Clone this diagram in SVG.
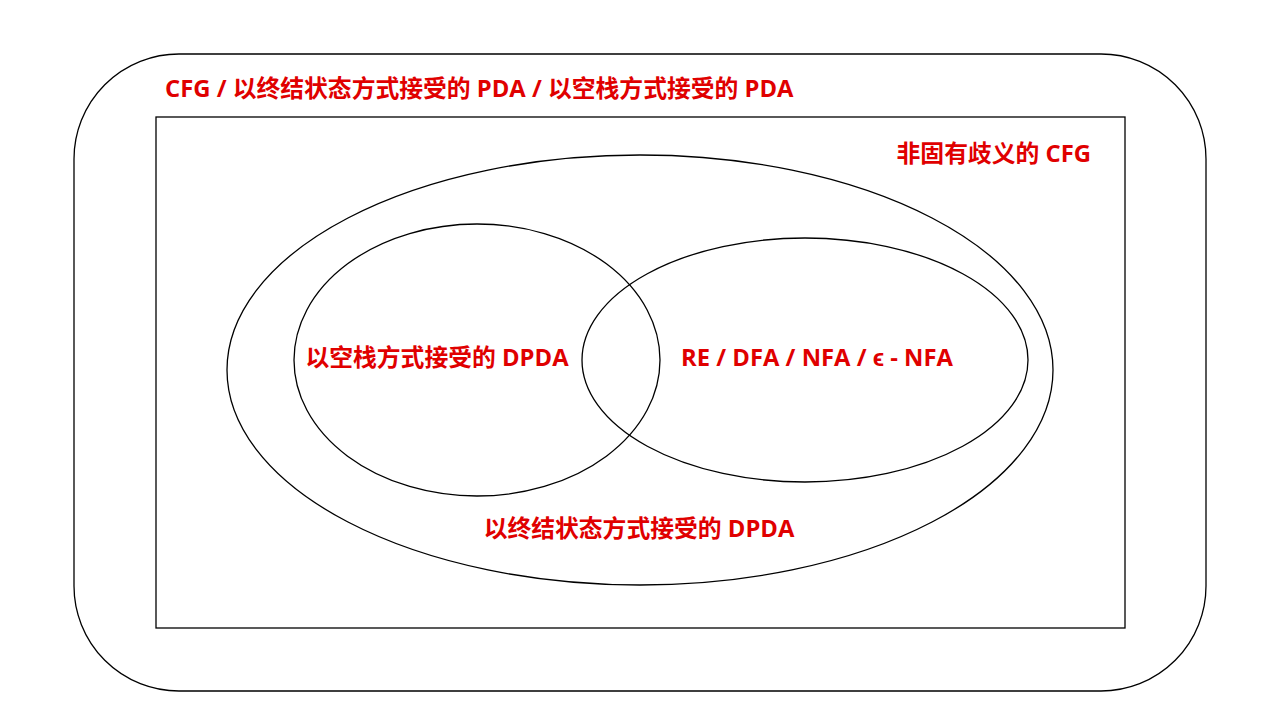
<svg xmlns="http://www.w3.org/2000/svg" width="1280" height="720" viewBox="0 0 1280 720">
<style>
.s{fill:none;stroke:#000;stroke-width:1.3}
.t{fill:#e00000;font-family:"Open Sans","Noto Sans CJK SC",sans-serif;font-weight:bold;font-size:23.8px}
</style>
<rect width="1280" height="720" fill="#fff"/>
<g id="cfg"><rect class="s" x="74" y="54" width="1132" height="637" rx="105"/>
<text class="t" x="165" y="97">CFG / 以终结状态方式接受的 PDA / 以空栈方式接受的 PDA</text></g>
<g id="unambiguous"><rect class="s" x="156" y="117" width="969" height="511"/>
<text class="t" x="1091" y="162" text-anchor="end">非固有歧义的 CFG</text></g>
<g id="dpda-final"><ellipse class="s" cx="640" cy="370" rx="413" ry="215"/>
<text class="t" x="639" y="537" text-anchor="middle">以终结状态方式接受的 DPDA</text></g>
<g id="dpda-empty"><ellipse class="s" cx="477" cy="360" rx="183" ry="136"/>
<text class="t" x="437" y="366" text-anchor="middle">以空栈方式接受的 DPDA</text></g>
<g id="regular"><ellipse class="s" cx="805" cy="360" rx="223" ry="122"/>
<text class="t" x="817" y="366" text-anchor="middle">RE / DFA / NFA / ϵ - NFA</text></g>
<g id="connectors"/>
</svg>
